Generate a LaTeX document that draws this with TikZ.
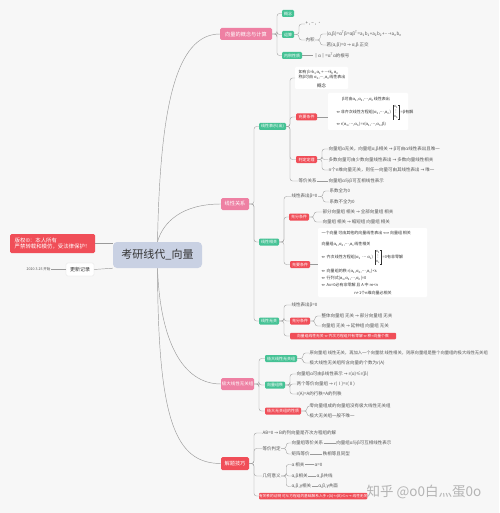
\documentclass[tikz,border=0pt]{standalone}
\usepackage{fontspec}
\setmainfont{Noto Sans CJK SC}
\newfontfamily\symf{DejaVu Sans}
\newcommand\myfs[1]{\fontsize{#1pt}{#1pt}\selectfont}
\newcommand\sbs[1]{\textsubscript{#1}}
\newcommand\sps[1]{\textsuperscript{#1}}
\newcommand\Eqv{{\symf ⇔}}
\newcommand\LEqv{{\symf ⟺}}
\newcommand\Ar{{\symf →}}
\newcommand\cds{{\symf ⋯}}
\newcommand\vds{{\symf ⋮}}
\definecolor{bgc}{HTML}{F7F7F7}
\definecolor{pinkc}{HTML}{EE80A3}
\definecolor{redc}{HTML}{F04E58}
\definecolor{greenc}{HTML}{45C295}
\definecolor{cenc}{HTML}{C9D1E3}
\definecolor{linec}{HTML}{9A9A9A}
\definecolor{txtc}{HTML}{555555}
\definecolor{darkc}{HTML}{333333}
\definecolor{wmc}{HTML}{B4B4B4}
\begin{document}
\begin{tikzpicture}[x=1pt,y=-1pt,
 box/.style={inner sep=0pt,outer sep=0pt,anchor=west,align=center},
 pinkbox/.style={box,fill=pinkc,text=white,rounded corners=1.5pt,font=\myfs{5.2},minimum height=12pt},
 redbig/.style={pinkbox,fill=redc},
 greenbox/.style={box,fill=greenc,text=white,rounded corners=1.2pt,font=\myfs{4},minimum height=7pt,inner xsep=2pt},
 redsm/.style={greenbox,fill=redc},
 txt/.style={inner sep=0pt,outer sep=0.6pt,anchor=west,font=\myfs{4.5},text=txtc},
 wtxt/.style={txt,text=darkc,font=\myfs{4}},
 wbox/.style={fill=white,inner sep=0pt,outer sep=0pt,rounded corners=1pt},
 mat/.style={inner xsep=1pt,inner ysep=0.8pt,outer sep=0pt,anchor=west,align=center,text=darkc,font=\fontsize{3.8pt}{4.6pt}\selectfont},
 brk/.style={draw=darkc,line width=0.3pt},
 conn/.style={draw=linec,line width=0.35pt,rounded corners=2.5pt},
 curv/.style={draw=linec,line width=0.45pt},
]
\path[use as bounding box,fill=bgc] (0,0) rectangle (499,513);

% ---------- centre and left ----------
\node[fill=cenc,rounded corners=4pt,minimum width=89pt,minimum height=26pt,inner sep=0pt,text=darkc,font=\myfs{11}] (cen) at (157.5,255) {考研线代\_向量};
\node[box,fill=redc,text=white,rounded corners=1.5pt,minimum width=85pt,minimum height=19pt,font=\myfs{5.4},align=left,inner xsep=3pt] (lr) at (10,243.5) {版权©：本人所有\\严禁转载和模仿，受法律保护！};
\node[box,fill=white,draw=black!15,line width=0.3pt,rounded corners=1.5pt,minimum width=28pt,minimum height=13pt,font=\myfs{5},text=darkc] (upd) at (66,269.5) {更新记录};
\node[txt,font=\myfs{3.6}] (date) at (26,269.5) {2020.3.25 开始};
\draw[curv] (lr.east) -- (lr.east -| cen.west);
\draw[curv] (upd.east) -- (cen.south west);
\draw[curv] (date.east) -- (upd.west);

% ---------- branch 1 ----------
\node[pinkbox,minimum width=52pt] (b1) at (220,34) {向量的概念与计算};
\node[greenbox,minimum width=11pt] (g11) at (282,13.5) {概念};
\node[greenbox,minimum width=11pt] (g12) at (282,34.5) {运算};
\node[greenbox,minimum width=20pt] (g13) at (282,55.5) {内积性质};
\node[txt] (t121) at (305,24) {+ , − , ·};
\node[txt] (t122) at (305,40) {内积};
\node[txt] (t1221) at (326,34) {(α,β)=α\sps{T}β=αβ\sps{T}=a\sbs{1}b\sbs{1}+a\sbs{2}b\sbs{2}+\cds+a\sbs{n}b\sbs{n}};
\node[txt] (t1222) at (326,45) {若(α,β)=0 \Ar{} α,β 正交};
\node[txt] (t131) at (313,55.5) {‖α‖=α\sps{T}α的根号};
\draw[curv] (cen.north) .. controls (160,110) and (175,34) .. (b1.west);
\foreach \c in {g11,g12,g13} \draw[conn] (b1.east) -- ++(5,0) |- (\c.west);
\foreach \c in {t121,t122} \draw[conn] (g12.east) -- ++(5,0) |- (\c.west);
\foreach \c in {t1221,t1222} \draw[conn] (t122.east) -- ++(5,0) |- (\c.west);
\draw[conn] (g13.east) -- (t131.west);

% ---------- branch 2 ----------
\node[pinkbox,minimum width=28pt] (b2) at (221,204) {线性关系};
\draw[curv] (cen.north) .. controls (163,222) and (182,204) .. (b2.west);
\node[greenbox,minimum width=27pt] (g21) at (259,126.5) {线性表示(出)};
\node[greenbox,minimum width=19pt] (g22) at (259,242) {线性相关};
\node[greenbox,minimum width=19pt] (g23) at (259,321) {线性无关};
\foreach \c in {g21,g22,g23} \draw[conn] (b2.east) -- ++(5,0) |- (\c.west);

% concept box
\node[wbox,minimum width=53pt,minimum height=22pt] (c21) at (321.5,78) {};
\node[wtxt] (c21a) at (298,72) {如有 β=k\sbs{1}α\sbs{1}+\cds+k\sbs{n}α\sbs{n}};
\node[wtxt] (c21b) at (298,77.5) {称β可由 α\sbs{1},\cds,α\sbs{n}线性表出};
\node[wtxt,font=\myfs{4.5},anchor=center] (c21c) at (321.5,86) {概念};
% necessary & sufficient
\node[redsm,minimum width=21pt] (r21) at (296,117) {充要条件};
\node[wbox,minimum width=80pt,minimum height=37pt] (c22) at (368,111.5) {};
\node[wtxt,anchor=center] (c22a) at (366,99) {β可由α\sbs{1},α\sbs{2},\cds,α\sbs{n}线性表出};
\node[wtxt] (c22b) at (336,112) {\Eqv{} 非齐次线性方程组(α\sbs{1},\cds,α\sbs{n})};
\node[mat] (m1) at ([xshift=1.5pt]c22b.east) {x\sbs{1}\\\vds\\x\sbs{n}};
\draw[brk] ([xshift=1pt]m1.north west) -- (m1.north west) -- (m1.south west) -- ([xshift=1pt]m1.south west);
\draw[brk] ([xshift=-1pt]m1.north east) -- (m1.north east) -- (m1.south east) -- ([xshift=-1pt]m1.south east);
\node[wtxt] (c22b2) at ([xshift=1pt]m1.east) {=β有解};
\node[wtxt] (c22c) at (336,124) {\Eqv{} r(α\sbs{1},\cds,α\sbs{n})=r(α\sbs{1},\cds,α\sbs{n},β)};
\draw[conn] (r21.east) -- (r21.east -| c22.west);
% theorems
\node[redsm,minimum width=21pt] (r22) at (296,159.5) {判定定理};
\node[txt] (t221) at (328,149) {向量组α无关，向量组α,β相关 \Ar{} β可由α线性表出且唯一};
\node[txt] (t222) at (328,159.5) {多数向量可由少数向量线性表出 \Ar{} 多数向量线性相关};
\node[txt] (t223) at (328,170) {n个n维向量无关，则任一向量可由其线性表出 \Ar{} 唯一};
\foreach \c in {t221,t222,t223} \draw[conn] (r22.east) -- ++(5,0) |- (\c.west);
\node[txt] (t23) at (298,181) {等价关系};
\node[txt] (t231) at (328,181) {向量组α与β可互相线性表示};
\draw[conn] (t23.east) -- (t231.west);
\foreach \c in {c21,r21,r22,t23} \draw[conn] (g21.east) -- ++(4,0) |- (\c.west);

% linear dependence
\node[txt] (t24) at (291,196.5) {线性表出β=0};
\node[txt] (t241) at (329,191) {系数全为0};
\node[txt] (t242) at (329,202) {系数不全为0};
\foreach \c in {t241,t242} \draw[conn] (t24.east) -- ++(5,0) |- (\c.west);
\node[redsm,minimum width=20pt] (r23) at (289,217) {充分条件};
\node[txt] (t231b) at (322,212) {部分向量组 相关 \Ar{} 全部向量组 相关};
\node[txt] (t232b) at (322,222) {向量组 相关 \Ar{} 缩短组 向量组 相关};
\foreach \c in {t231b,t232b} \draw[conn] (r23.east) -- ++(5,0) |- (\c.west);
\node[redsm,minimum width=20pt] (r24) at (290,264.5) {充要条件};
\node[wbox,minimum width=109pt,minimum height=69pt] (c24) at (372.5,262.5) {};
\node[wtxt] (c24a) at (321,233) {一个向量 可由其他的向量线性表出 \LEqv{} 向量组 相关};
\node[wtxt] (c24b) at (321,244) {向量组α\sbs{1},α\sbs{2},\cds,α\sbs{s}线性相关};
\node[wtxt] (c24c) at (321,257) {\Eqv{} \ 齐次线性方程组(α\sbs{1} \ \cds \ α\sbs{s})};
\node[mat] (m2) at ([xshift=1.5pt]c24c.east) {x\sbs{1}\\\vds\\x\sbs{s}};
\draw[brk] ([xshift=1pt]m2.north west) -- (m2.north west) -- (m2.south west) -- ([xshift=1pt]m2.south west);
\draw[brk] ([xshift=-1pt]m2.north east) -- (m2.north east) -- (m2.south east) -- ([xshift=-1pt]m2.south east);
\node[wtxt] (c24c2) at ([xshift=1pt]m2.east) {=0有非零解};
\node[wtxt] (c24d) at (321,271.5) {\Eqv{} \ 向量组的秩 r(α\sbs{1},α\sbs{2},\cds,α\sbs{s})<s};
\node[wtxt] (c24e) at (321,278) {\Eqv{} \ 行列式|α\sbs{1},α\sbs{2},\cds,α\sbs{n}|=0};
\node[wtxt] (c24f) at (321,284.5) {\Eqv{} \ Ax=0必有非零解 且 A 中 m<n};
\node[wtxt,anchor=center] (c24g) at (373,293) {n+1个n维向量必相关};
\draw[conn] (r24.east) -- (r24.east -| c24.west);
\foreach \c in {t24,r23,r24} \draw[conn] (g22.east) -- ++(5,0) |- (\c.west);

% linear independence
\node[txt] (t25) at (291,305) {线性表出β=0};
\node[redsm,minimum width=20pt] (r25) at (290,321) {充分条件};
\node[txt] (t251) at (321,316) {整体向量组 无关 \Ar{} 部分向量组 无关};
\node[txt] (t252) at (321,326) {向量组 无关 \Ar{} 延伸组 向量组 无关};
\foreach \c in {t251,t252} \draw[conn] (r25.east) -- ++(5,0) |- (\c.west);
\node[box,fill=redc,text=white,rounded corners=1pt,minimum width=106pt,minimum height=6.5pt,font=\myfs{3.8}] (rb2) at (290,336) {向量组线性无关 \Eqv{} 齐次方程组只有零解 \Eqv{} 秩=向量个数};
\foreach \c in {t25,r25,rb2} \draw[conn] (g23.east) -- ++(5,0) |- (\c.west);

% ---------- branch 3 ----------
\node[pinkbox,minimum width=33pt,font=\myfs{4.5}] (b3) at (221,384) {极大线性无关组};
\draw[curv] (cen.south) .. controls (160,340) and (182,384) .. (b3.west);
\node[greenbox,minimum width=32pt] (g31) at (265,358.5) {极大线性无关组};
\node[greenbox,minimum width=20pt] (g32) at (265,385) {向量组秩};
\node[redsm,minimum width=32pt] (g33) at (265,411) {极大无关组的性质};
\foreach \c in {g31,g32,g33} \draw[conn] (b3.east) -- ++(5,0) |- (\c.west);
\node[txt,font=\myfs{4.3}] (t311) at (309,353) {原向量组 线性无关，再加入一个向量就 线性相关，则原向量组是整个向量组的极大线性无关组};
\node[txt] (t312) at (309,363) {极大线性无关组所含向量的个数为r(A)};
\foreach \c in {t311,t312} \draw[conn] (g31.east) -- ++(6,0) |- (\c.west);
\node[txt] (t321) at (296,374) {向量组α可由β线性表示 \Ar{} r(α)≤r(β)};
\node[txt] (t322) at (296,384) {两个等价向量组 \Ar{} r(Ⅰ)=r(Ⅱ)};
\node[txt] (t323) at (296,394) {r(A)=A的行秩=A的列秩};
\foreach \c in {t321,t322,t323} \draw[conn] (g32.east) -- ++(5,0) |- (\c.west);
\node[txt] (t331) at (309,406) {零向量组成的向量组没有极大线性无关组};
\node[txt] (t332) at (309,416) {极大无关组一般不唯一};
\foreach \c in {t331,t332} \draw[conn] (g33.east) -- ++(6,0) |- (\c.west);

% ---------- branch 4 ----------
\node[redbig,minimum width=28pt,minimum height=13pt] (b4) at (221,463.5) {解题技巧};
\draw[curv] (cen.south) .. controls (158,420) and (175,463.5) .. (b4.west);
\node[txt] (t41) at (262,433) {AB=0 \Ar{} B的列向量是齐次方程组的解};
\node[txt] (t42) at (262,448.5) {等价判定};
\node[txt] (t421) at (291,443) {向量组等价关系};
\node[txt,anchor=west,xshift=12pt] (t4211) at (t421.east) {向量组α与β可互相线性表示};
\node[txt] (t422) at (291,454) {矩阵等价};
\node[txt,anchor=west,xshift=12pt] (t4221) at (t422.east) {秩相等且同型};
\draw[conn] (t421.east) -- (t4211.west);
\draw[conn] (t422.east) -- (t4221.west);
\foreach \c in {t421,t422} \draw[conn] (t42.east) -- ++(5,0) |- (\c.west);
\node[txt] (t43) at (262,476) {几何意义};
\node[txt] (t431) at (291,464.5) {α 相关};
\node[txt,anchor=west,xshift=9pt] (t4311) at (t431.east) {α=0};
\node[txt] (t432) at (291,476) {α,β相关};
\node[txt,anchor=west,xshift=8pt] (t4321) at (t432.east) {α,β共线};
\node[txt] (t433) at (291,486.5) {α,β,γ相关};
\node[txt,anchor=west,xshift=6pt] (t4331) at (t433.east) {α,β,γ共面};
\foreach \a/\b in {t431/t4311,t432/t4321,t433/t4331} \draw[conn] (\a.east) -- (\b.west);
\foreach \c in {t431,t432,t433} \draw[conn] (t43.east) -- ++(5,0) |- (\c.west);
\node[box,fill=redc,text=white,rounded corners=1pt,minimum width=107pt,minimum height=6.5pt,font=\myfs{3.7}] (rb4) at (259,496) {有关秩的证明 可从方程组的基础解系入手 r(A)+r(B)≤n \Ar{} 线性无关};
\foreach \c in {t41,t42,t43,rb4} \draw[conn] (b4.east) -- ++(5,0) |- (\c.west);

% watermark
\node[inner sep=0pt,text=wmc,font=\myfs{13.5}] (wm) at (424,492) {知乎 @o0白灬蛋0o};
\end{tikzpicture}
\end{document}
